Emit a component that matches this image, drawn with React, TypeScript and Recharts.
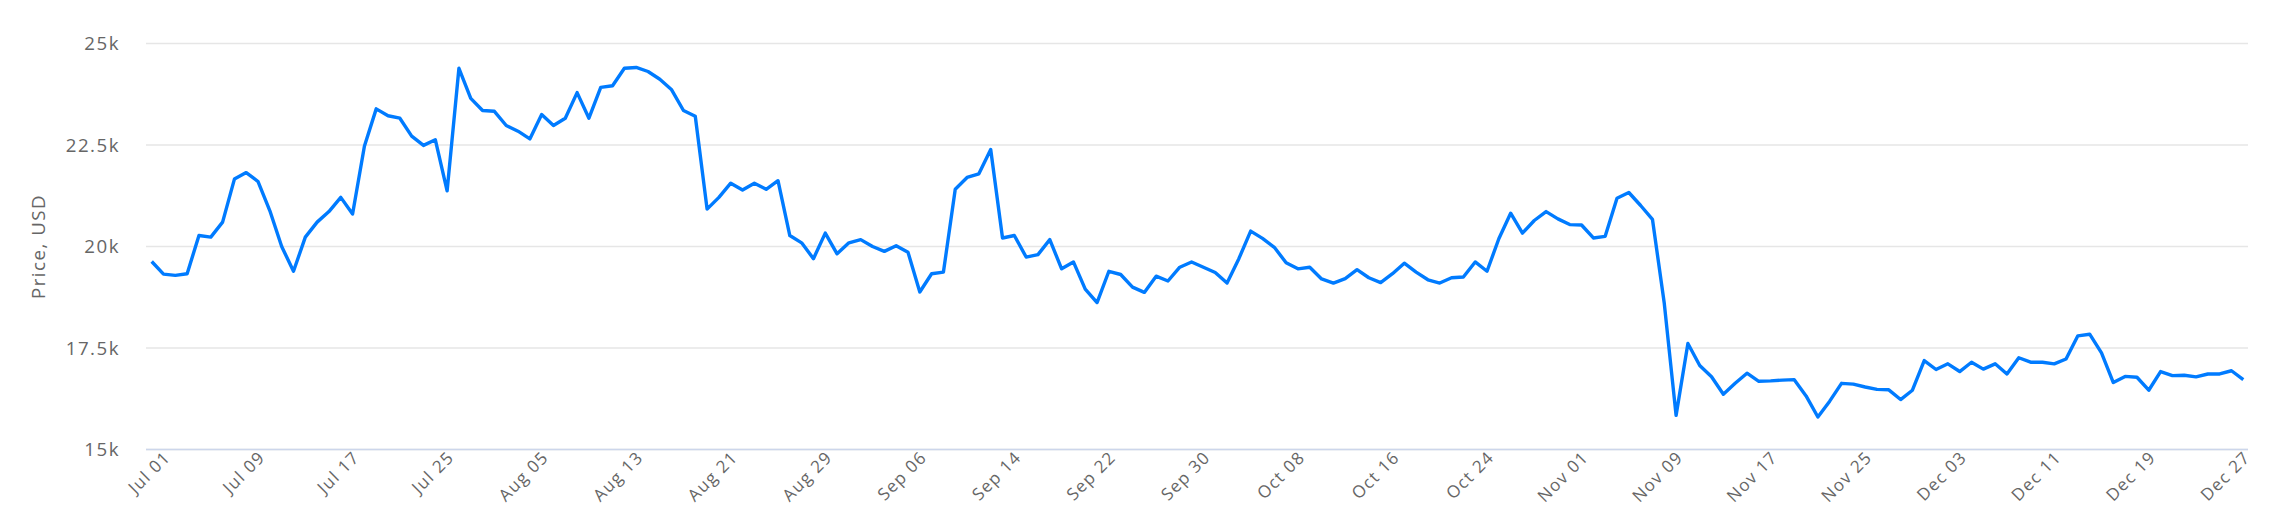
import { LineChart, Line, XAxis, YAxis, CartesianGrid } from 'recharts'

// daily close, USD (Jul 26-28 missing in the source feed)
const junDays = [30]
const julDays = [1, 2, 3, 4, 5, 6, 7, 8, 9, 10, 11, 12, 13, 14, 15, 16, 17, 18, 19, 20, 21, 22, 23, 24, 25, 29, 30, 31]

const junPrices = [19630]
const julPrices = [19320, 19290, 19330, 20270, 20230, 20600, 21660, 21820, 21600, 20880, 20000, 19390, 20230, 20600, 20860, 21210, 20800, 22470, 23390, 23220, 23160, 22720, 22490, 22630, 21370, 24390, 23650, 23350]
const augPrices = [23330, 22980, 22840, 22650, 23250, 22980, 23160, 23790, 23160, 23920, 23960, 24390, 24410, 24310, 24120, 23860, 23350, 23210, 20920, 21210, 21560, 21390, 21560, 21410, 21620, 20270, 20090, 19700, 20330, 19820, 20090]
const sepPrices = [20170, 20000, 19880, 20020, 19860, 18880, 19330, 19370, 21410, 21700, 21790, 22390, 20210, 20270, 19740, 19800, 20170, 19450, 19620, 18950, 18620, 19390, 19310, 19000, 18870, 19270, 19150, 19490, 19620, 19490]
const octPrices = [19360, 19100, 19700, 20380, 20200, 19980, 19600, 19450, 19490, 19200, 19100, 19210, 19430, 19230, 19110, 19330, 19590, 19370, 19180, 19100, 19230, 19250, 19620, 19390, 20190, 20820, 20330, 20640, 20860, 20680, 20540]
const novPrices = [20530, 20210, 20250, 21190, 21330, 21010, 20670, 18600, 15840, 17610, 17070, 16790, 16360, 16630, 16880, 16680, 16690, 16710, 16720, 16320, 15800, 16190, 16630, 16610, 16540, 16480, 16470, 16230, 16460, 17190]
const decPrices = [16970, 17110, 16920, 17150, 16980, 17110, 16860, 17260, 17150, 17150, 17110, 17230, 17800, 17840, 17380, 16650, 16800, 16780, 16460, 16920, 16820, 16830, 16790, 16860, 16860, 16940, 16720]

const tickLabels = ['Jul 01', 'Jul 09', 'Jul 17', 'Jul 25', 'Aug 05', 'Aug 13', 'Aug 21', 'Aug 29', 'Sep 06', 'Sep 14', 'Sep 22', 'Sep 30', 'Oct 08', 'Oct 16', 'Oct 24', 'Nov 01', 'Nov 09', 'Nov 17', 'Nov 25', 'Dec 03', 'Dec 11', 'Dec 19', 'Dec 27']
const yTicks = [15000, 17500, 20000, 22500, 25000]

const pad = (d: number) => (d < 10 ? '0' + d : String(d))

const months: [string, number[], number[] | null][] = [
  ['Jun', junPrices, junDays],
  ['Jul', julPrices, julDays],
  ['Aug', augPrices, null],
  ['Sep', sepPrices, null],
  ['Oct', octPrices, null],
  ['Nov', novPrices, null],
  ['Dec', decPrices, null],
]

const data = months.flatMap(([m, prices, days]) =>
  prices.map((price, i) => ({ date: `${m} ${pad(days ? days[i] : i + 1)}`, price }))
)

const FONT = '"Open Sans", sans-serif'
const labelSet = new Set(tickLabels)

const DateTick = ({ x, y, payload }: any) => {
  if (!labelSet.has(payload.value)) return <g />
  const ax = x + 8
  const ay = y + 1
  return (
    <text x={ax} y={ay} transform={`rotate(-45 ${ax} ${ay})`} textAnchor="end"
      fill="#666666" fontSize={17} fontFamily={FONT} style={{ letterSpacing: 1.3 }}>
      {payload.value}
    </text>
  )
}

const AxisTitle = ({ viewBox }: any) => {
  const cx = 37
  const cy = viewBox.y + viewBox.height / 2
  return (
    <text x={cx} y={cy} transform={`rotate(-90 ${cx} ${cy})`} textAnchor="middle" dominantBaseline="central"
      fill="#666666" fontSize={18.7} fontFamily={FONT} style={{ letterSpacing: 1.5 }}>
      Price, USD
    </text>
  )
}

export default function App() {
  return (
    <div style={{ position: 'absolute', left: 0, top: 0, background: '#fff' }}>
      <LineChart width={2276} height={527} data={data} margin={{ top: 43.5, right: 28, left: 0, bottom: 0 }}>
        <CartesianGrid vertical={false} stroke="#e6e6e6" strokeWidth={1.7} />
        <XAxis dataKey="date" interval={0} height={77.5} padding={{ left: 5.7, right: 4.7 }}
          axisLine={{ stroke: '#ccd6eb', strokeWidth: 1.7 }} tickLine={false} tick={<DateTick />} />
        <YAxis width={146} domain={[15000, 25000]} ticks={yTicks} axisLine={false} tickLine={false}
          tickMargin={20} tickFormatter={(v: number) => `${v / 1000}k`}
          tick={{ fill: '#666666', fontSize: 18.7, fontFamily: FONT, style: { letterSpacing: 1.5 } }}
          label={<AxisTitle />} />
        <Line type="linear" dataKey="price" stroke="#007bff" strokeWidth={3.4} dot={false}
          activeDot={false} isAnimationActive={false} strokeLinejoin="round" />
      </LineChart>
    </div>
  )
}
